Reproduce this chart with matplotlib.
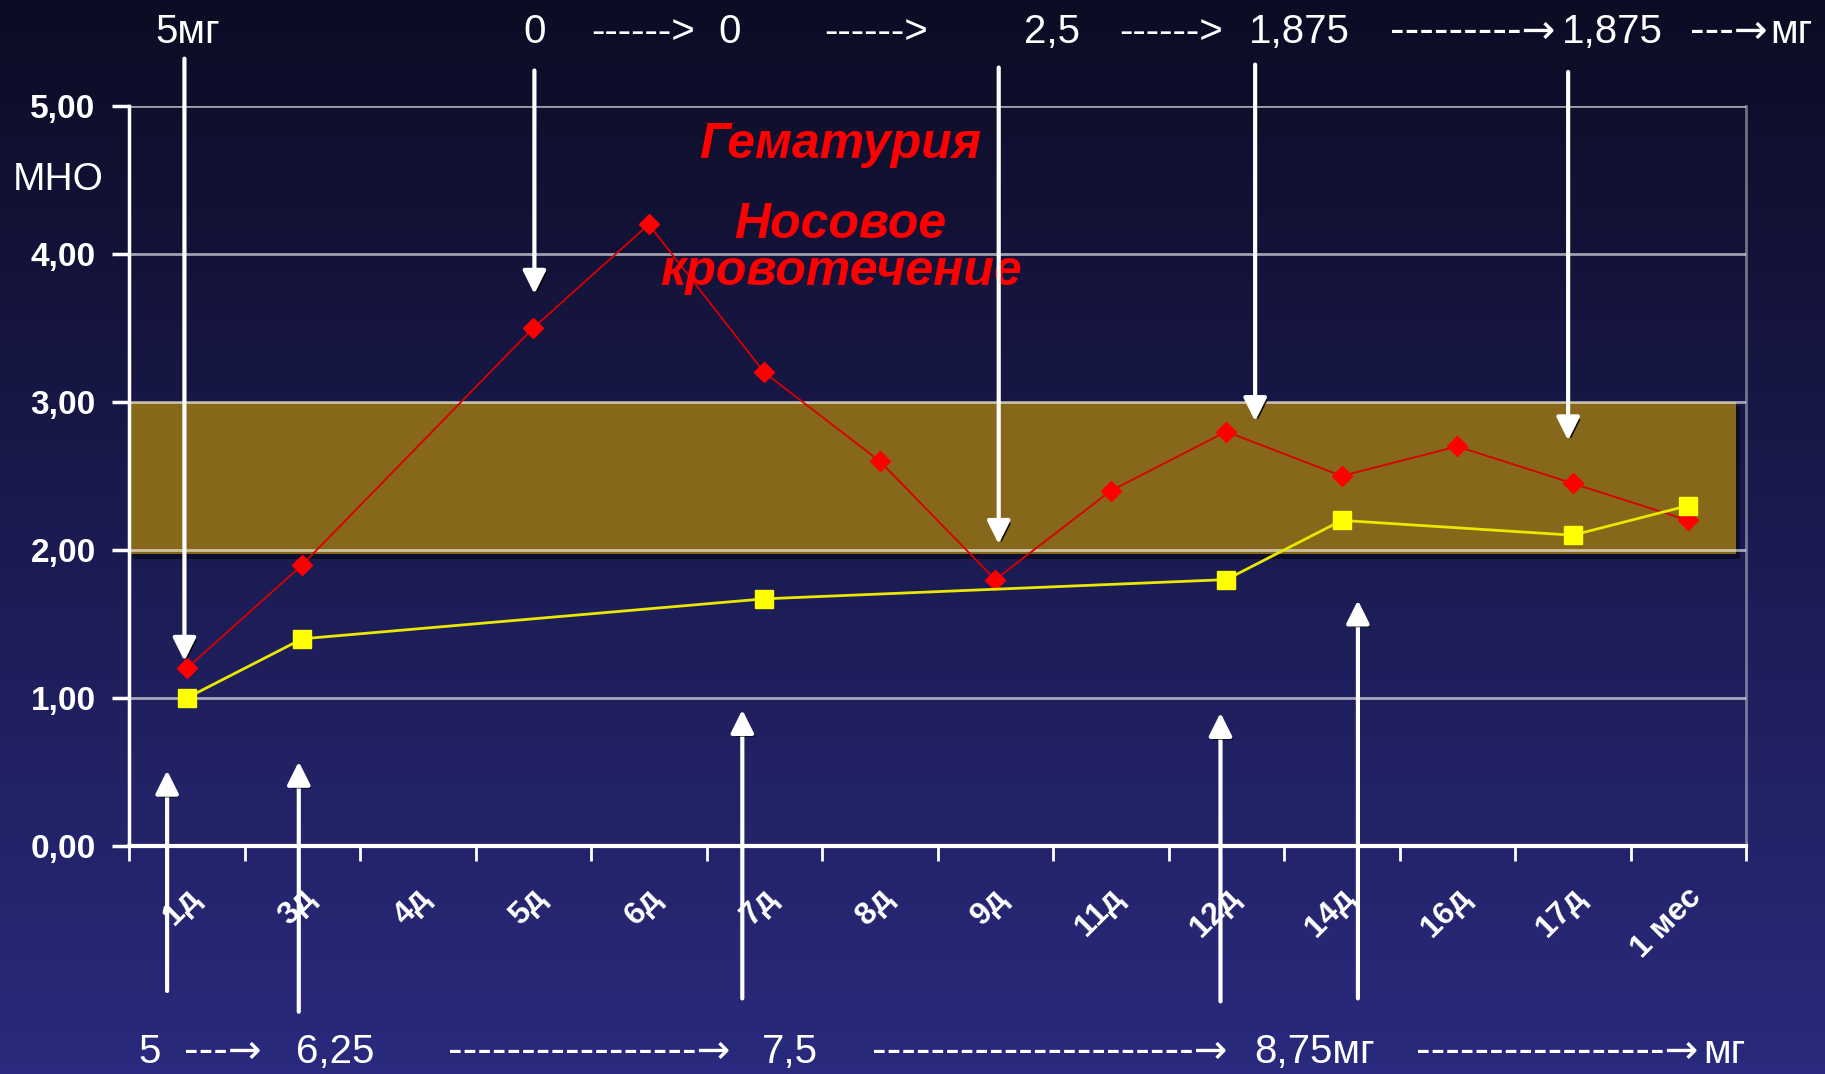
import numpy as np
import matplotlib
matplotlib.use('Agg')
import matplotlib.pyplot as plt
from matplotlib import patches
from matplotlib import patheffects as pe
from matplotlib.transforms import ScaledTranslation

W, H, DPI = 1825, 1074, 100

# days of observation and INR (МНО) readings
days = ['1д', '3д', '4д', '5д', '6д', '7д', '8д', '9д', '11д', '12д', '14д', '16д', '17д', '1 мес']
red_days = ['1д', '3д', '5д', '6д', '7д', '8д', '9д', '11д', '12д', '14д', '16д', '17д', '1 мес']
red_mno = [1.2, 1.9, 3.5, 4.2, 3.2, 2.6, 1.8, 2.4, 2.8, 2.5, 2.7, 2.45, 2.2]
yellow_days = ['1д', '3д', '7д', '12д', '14д', '17д', '1 мес']
yellow_mno = [1.0, 1.4, 1.67, 1.8, 2.2, 2.1, 2.3]
yticks = [0, 1, 2, 3, 4, 5]
ytick_labels = ['0,00', '1,00', '2,00', '3,00', '4,00', '5,00']
target_low, target_high = 2.0, 3.0

# dose notes above and below the chart
top_text = ['5мг', '0', '------>', '0', '------>', '2,5', '------>', '1,875',
            '---------→', '1,875', '---→', 'мг']
bottom_text = ['5', '---→', '6,25', '-----------------→', '7,5',
               '----------------------→', '8,75мг', '-----------------→', 'мг']
events = ['Гематурия', 'Носовое', 'кровотечение']

# layout: numbers are placed by their left edge, dashed arrows by their right end
top_x = [155, 523, 695, 718, 928, 1024, 1223, 1249, 1555, 1562, 1768, 1770]
bottom_x = [138, 262, 296, 730, 762, 1228, 1254, 1698, 1703]
event_y = [4.65, 4.11, 3.79]
down_arrows = [(-0.02, 5.32, 1.25), (3.01, 5.24, 3.73), (7.03, 5.26, 2.04),
               (9.25, 5.28, 2.87), (11.96, 5.23, 2.74)]
up_arrows = [(-0.17, -0.98, 0.51), (0.97, -1.12, 0.57), (4.81, -1.03, 0.92),
             (8.95, -1.05, 0.90), (10.14, -1.03, 1.66)]

narrow = ['Liberation Sans Narrow', 'Liberation Sans', 'DejaVu Sans']
regular = ['Liberation Sans', 'DejaVu Sans']

fig = plt.figure(figsize=(W / DPI, H / DPI), dpi=DPI)

# dark blue gradient backdrop
bg = fig.add_axes([0, 0, 1, 1], zorder=-10)
t = np.linspace(0, 1, 256)[:, None, None]
c_top = np.array([12, 12, 36]) / 255
c_bot = np.array([42, 42, 126]) / 255
bg.imshow(c_top + (c_bot - c_top) * t, aspect='auto', extent=[0, 1, 0, 1])
bg.axis('off')

ax = fig.add_axes([129 / W, 1 - 846 / H, (1746 - 129) / W, (846 - 106) / H])
ax.set_facecolor('none')
ax.set_xlim(-0.5, len(days) - 0.5)
ax.set_ylim(0, 5)

# target range band
band = patches.Rectangle((-0.5, target_low - 0.03), 13.91, target_high - target_low + 0.03,
                         facecolor='#876719', edgecolor='none', zorder=1)
band.set_path_effects([pe.SimplePatchShadow(offset=(3, -3), shadow_rgbFace='#0c0c28', alpha=0.9),
                       pe.Normal()])
ax.add_patch(band)

for y in yticks[1:]:
    ax.axhline(y, color='white', alpha=0.6, lw=2, zorder=2)

rx = [days.index(d) for d in red_days]
yx = [days.index(d) for d in yellow_days]
ax.plot(rx, red_mno, color='#d80000', lw=1.3, marker='D', ms=10,
        mfc='#ff0000', mec='#ff0000', zorder=4)
ax.plot(yx, yellow_mno, color='#e8e800', lw=2, marker='s', ms=13,
        mfc='#ffff00', mec='#ffff00', zorder=5)

# axes styling
ax.spines['top'].set_visible(False)
ax.spines['right'].set_color((1, 1, 1, 0.4))
ax.spines['right'].set_linewidth(2)
ax.spines['left'].set_color('white')
ax.spines['left'].set_linewidth(2.5)
ax.spines['bottom'].set_color('white')
ax.spines['bottom'].set_linewidth(3)

ax.set_yticks(yticks)
ax.set_yticklabels(ytick_labels, fontsize=24, fontweight='bold', family=narrow, color='white')
ax.tick_params(axis='y', length=12, width=2.5, color='white', pad=12)

ax.set_xticks(np.arange(-0.5, len(days)), minor=False)
ax.set_xticklabels([])
ax.tick_params(axis='x', which='major', length=11, width=2, color='white')
ax.set_xticks(np.arange(len(days)), minor=True)
ax.set_xticklabels(days, minor=True, rotation=45, ha='right', va='center',
                   rotation_mode='anchor', fontsize=23, fontweight='bold',
                   family=regular, color='white')
ax.tick_params(axis='x', which='minor', length=0, pad=34)
shift = ScaledTranslation(6 / 72, 0, fig.dpi_scale_trans)
for lbl in ax.get_xticklabels(minor=True):
    lbl.set_transform(lbl.get_transform() + shift)

# bleeding events
for txt, y in zip(events, event_y):
    ax.text(5.66, y, txt, color='#ff0000', fontsize=36, fontweight='bold', style='italic',
            family=regular, ha='center', va='baseline', zorder=6)

# dose change arrows
def arrow(x, y0, y1):
    a = patches.FancyArrowPatch((x, y0), (x, y1),
                                arrowstyle='-|>,head_length=0.5,head_width=0.25',
                                mutation_scale=28, lw=3, color='white',
                                shrinkA=0, shrinkB=0, clip_on=False, zorder=7)
    a.set_path_effects([pe.SimplePatchShadow(offset=(2, -2), shadow_rgbFace='black', alpha=0.9),
                        pe.Normal()])
    ax.add_patch(a)

for x, y0, y1 in down_arrows + up_arrows:
    arrow(x, y0, y1)

fig.text(58 / W, 1 - 180 / H, 'МНО', color='white', fontsize=28, family=regular,
         ha='center', va='center')


def dose_row(texts, xs, y):
    for txt, x in zip(texts, xs):
        if txt.startswith('-'):
            fam = ['DejaVu Sans'] if '→' in txt else regular
            fig.text(x / W, 1 - y / H, txt, color='white', fontsize=29, family=fam,
                     ha='right', va='baseline')
        else:
            fig.text(x / W, 1 - y / H, txt, color='white', fontsize=29, family=regular,
                     ha='left', va='baseline')


dose_row(top_text, top_x, 43)
dose_row(bottom_text, bottom_x, 1063)

fig.savefig('out.png', dpi=DPI)
